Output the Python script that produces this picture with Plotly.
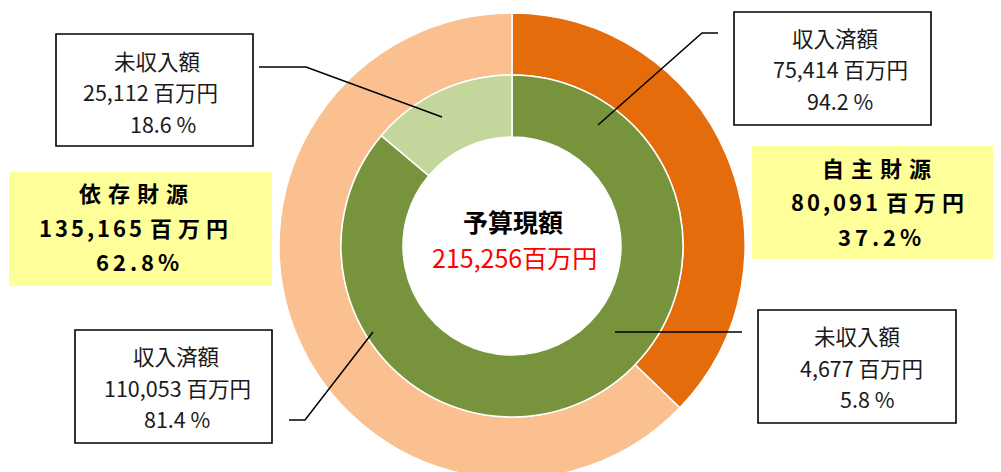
import plotly.graph_objects as go

# ---------------- data ----------------
outer_labels = ["自主財源", "依存財源"]
outer_values = [80091, 135165]
inner_labels = ["収入済額", "未収入額", "収入済額", "未収入額"]
inner_values = [75414, 4677, 110053, 25112]
inner_parent = [0, 0, 1, 1]
total_label = "予算現額"
unit = "百万円"

outer_colors = ["#E46C0A", "#FAC090"]
inner_colors = ["#77933C", "#C3D69B", "#77933C", "#C3D69B"]

W, H = 1001, 472
OFF = 8  # page body margin
CX, CY = 512, 246
R_OUT, R_MID, R_IN = 233, 171, 109
FONT = "Noto Sans CJK JP"


def px(x):
    return (x - OFF) / W


def py(y):
    return (H - (y - OFF)) / H


fig = go.Figure()
fig.add_trace(go.Pie(
    labels=outer_labels, values=outer_values, sort=False, direction="clockwise",
    rotation=0, hole=R_MID / R_OUT, textinfo="none", hoverinfo="label+value",
    marker=dict(colors=outer_colors, line=dict(color="white", width=1.5)),
    domain=dict(x=[px(CX - R_OUT), px(CX + R_OUT)],
                y=[max(0, py(CY + R_OUT)), py(CY - R_OUT)]),
    showlegend=False,
))
fig.add_trace(go.Pie(
    labels=inner_labels, values=inner_values, sort=False, direction="clockwise",
    rotation=0, hole=R_IN / R_MID, textinfo="none", hoverinfo="label+value",
    marker=dict(colors=inner_colors, line=dict(color="white", width=1.5)),
    domain=dict(x=[px(CX - R_MID), px(CX + R_MID)], y=[py(CY + R_MID), py(CY - R_MID)]),
    showlegend=False,
))

total = sum(outer_values)
shapes = []
annos = []


def rect(x0, y0, x1, y1, fill, line):
    shapes.append(dict(type="rect", xref="paper", yref="paper",
                       x0=px(x0), x1=px(x1), y0=py(y1), y1=py(y0),
                       fillcolor=fill,
                       line=dict(color=line, width=1.6 if line else 0),
                       layer="above"))


def path(points):
    d = "M " + " L ".join(f"{px(x)},{py(y)}" for x, y in points)
    shapes.append(dict(type="path", xref="paper", yref="paper", path=d,
                       line=dict(color="black", width=1.5), layer="above"))


def text(x, y, s, size=21.5, color="#1a1a1a", bold=False):
    if bold:
        s = "<b>" + s + "</b>"
    annos.append(dict(x=px(x), y=py(y), xref="paper", yref="paper", text=s,
                      showarrow=False, xanchor="center", yanchor="middle",
                      align="center",
                      font=dict(family=FONT, size=size, color=color)))


# white label boxes for inner slices: (box, line centres, leader points)
inner_boxes = {
    0: ((734, 12, 931, 125), [(835, 37.5), (840, 69), (840, 100.5)],
        [(598, 125), (702, 33), (718, 33)]),
    1: ((758, 310, 956, 423), [(857, 335.5), (861, 367), (867, 398.5)],
        [(615, 332), (742, 332)]),
    2: ((75, 330, 272, 443), [(176, 355.5), (177, 387), (177, 418.5)],
        [(289, 420), (305, 420), (373, 332)]),
    3: ((56, 34, 253, 146), [(157, 60.5), (150, 92), (163, 123.5)],
        [(259, 67), (306, 67), (442, 117)]),
}
for i, (box, lines, leader) in inner_boxes.items():
    rect(*box, "white", "black")
    pct = inner_values[i] / outer_values[inner_parent[i]] * 100
    text(*lines[0], inner_labels[i])
    text(*lines[1], f"{inner_values[i]:,} {unit}")
    text(*lines[2], f"{pct:.1f} %")
    path(leader)

# yellow boxes for outer slices
outer_boxes = {
    0: ((752, 146, 1009, 259), [(880, 167), (880, 201), (881, 236)]),
    1: ((9, 172, 272, 286), [(137, 192), (136, 227), (139, 261)]),
}
for i, (box, lines) in outer_boxes.items():
    rect(*box, "#FFFF99", None)
    pct = outer_values[i] / total * 100
    text(*lines[0], f'<span style="letter-spacing:7px">{outer_labels[i]}</span>', size=22, color="black", bold=True)
    text(*lines[1], f'<span style="letter-spacing:3px">{outer_values[i]:,}</span> '
                    f'<span style="letter-spacing:6px">{unit}</span>', size=22, color="black", bold=True)
    text(*lines[2], f'<span style="letter-spacing:4px">{pct:.1f}%</span>', size=22, color="black", bold=True)

# centre
text(513, 221, total_label, size=25, color="black", bold=True)
text(514, 257, f"{total:,}{unit}", size=25, color="#FF0000")

fig.update_layout(
    width=W, height=H, margin=dict(l=0, r=0, t=0, b=0),
    paper_bgcolor="white", plot_bgcolor="white",
    shapes=shapes, annotations=annos,
)
fig.write_html("out.html")
